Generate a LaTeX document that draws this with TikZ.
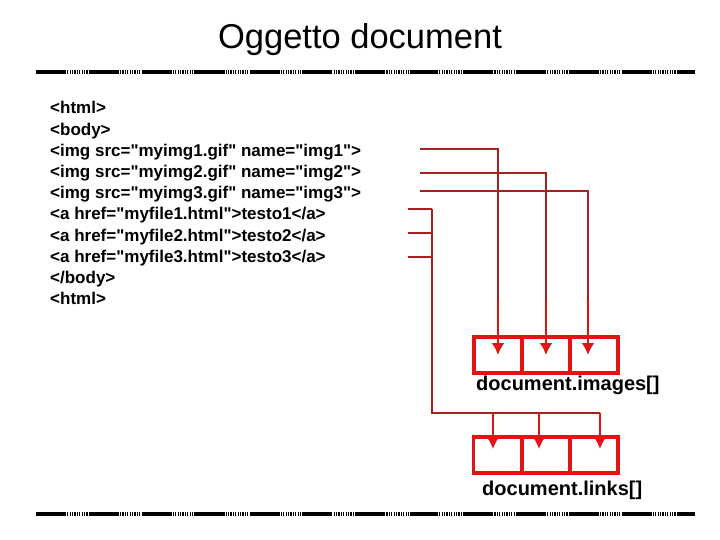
\documentclass[tikz,border=0pt]{standalone}
\usepackage{fontspec}
\setmainfont{Liberation Sans}[Ligatures=TeXOff]
\usetikzlibrary{arrows.meta}
\definecolor{wirered}{RGB}{170,30,30}
\definecolor{boxred}{RGB}{225,20,20}
\tikzstyle{codeline}=[anchor=base west,inner sep=0pt,font=\fontsize{17}{20.5}\selectfont\bfseries]
\tikzstyle{cell}=[draw=boxred,line width=3.5pt,minimum width=48pt,minimum height=36pt,inner sep=0pt]

\begin{document}
\begin{tikzpicture}[x=1pt,y=-1pt]

\tikzset{wire/.style = {draw=wirered,line width=1.5pt}}
\tikzset{pointer/.style = {->,> = {Latex[length=12pt,width=13pt]},draw=boxred,line width=2pt}}
\tikzset{rule/.style = {line width=4pt}}
\tikzset{caption/.style = {anchor=base west,inner sep=0pt,font=\fontsize{20}{24}\selectfont\bfseries}}

\useasboundingbox (0,0) rectangle (720,540);

%title
\node[anchor=base,inner sep=0pt,font=\fontsize{34.5}{40}\selectfont] (title) at (360,49) {Oggetto document};

%rules
\coordinate (ta) at (36,72);
\coordinate (tb) at (695,72);
\coordinate (ba) at (36,514);
\coordinate (bb) at (695,514);
\draw[rule,dash pattern=on 1.2pt off 1.2pt] (ta) -- (tb);
\draw[rule,dash pattern=on 28.6pt off 24.8pt] (ta) -- (tb);
\draw[rule,dash pattern=on 1.2pt off 1.2pt] (ba) -- (bb);
\draw[rule,dash pattern=on 28.6pt off 24.8pt] (ba) -- (bb);

%code
\node[codeline] (l1) at (50,114) {<html>};
\node[codeline] (l2) at (50,135.2) {<body>};
\node[codeline] (l3) at (50,156.4) {<img src="myimg1.gif" name="img1">};
\node[codeline] (l4) at (50,177.6) {<img src="myimg2.gif" name="img2">};
\node[codeline] (l5) at (50,198.8) {<img src="myimg3.gif" name="img3">};
\node[codeline] (l6) at (50,220) {<a href="myfile1.html">testo1</a>};
\node[codeline] (l7) at (50,241.2) {<a href="myfile2.html">testo2</a>};
\node[codeline] (l8) at (50,262.4) {<a href="myfile3.html">testo3</a>};
\node[codeline] (l9) at (50,283.6) {</body>};
\node[codeline] (l10) at (50,304.8) {<html>};

%arrays
\node[cell] (im1) at (498,355) {};
\node[cell] (im2) at (546,355) {};
\node[cell] (im3) at (594,355) {};
\node[cell] (ln1) at (497.5,455) {};
\node[cell] (ln2) at (546,455) {};
\node[cell] (ln3) at (594,455) {};

\node[caption] (imcap) at (476,390) {document.images[]};
\node[caption] (lncap) at (482,495) {document.links[]};

%images wires
\coordinate (s1) at (420,149);
\coordinate (s2) at (420,173);
\coordinate (s3) at (420,191);
\coordinate (m1) at (498,300);
\coordinate (m2) at (546,300);
\coordinate (m3) at (588,300);
\coordinate (t1) at (498,355);
\coordinate (t2) at (546,355);
\coordinate (t3) at (588,355);

\draw[wire] (s1) -| (m1);
\draw[wire] (s2) -| (m2);
\draw[wire] (s3) -| (m3);
\draw[pointer] (m1) to (t1);
\draw[pointer] (m2) to (t2);
\draw[pointer] (m3) to (t3);

%links wires
\coordinate (u1) at (408,209);
\coordinate (u2) at (408,233);
\coordinate (u3) at (408,257);
\coordinate (v1) at (432,209);
\coordinate (v2) at (432,233);
\coordinate (v3) at (432,257);
\coordinate (bend) at (432,413);
\coordinate (n1) at (493,413);
\coordinate (n2) at (539,413);
\coordinate (n3) at (600,413);
\coordinate (p1) at (493,449);
\coordinate (p2) at (539,449);
\coordinate (p3) at (600,449);

\draw[wire] (u1) to (v1);
\draw[wire] (u2) to (v2);
\draw[wire] (u3) to (v3);
\draw[wire] (v1) -- (bend) -- (n3);
\draw[pointer] (n1) to (p1);
\draw[pointer] (n2) to (p2);
\draw[pointer] (n3) to (p3);

\end{tikzpicture}
\end{document}
